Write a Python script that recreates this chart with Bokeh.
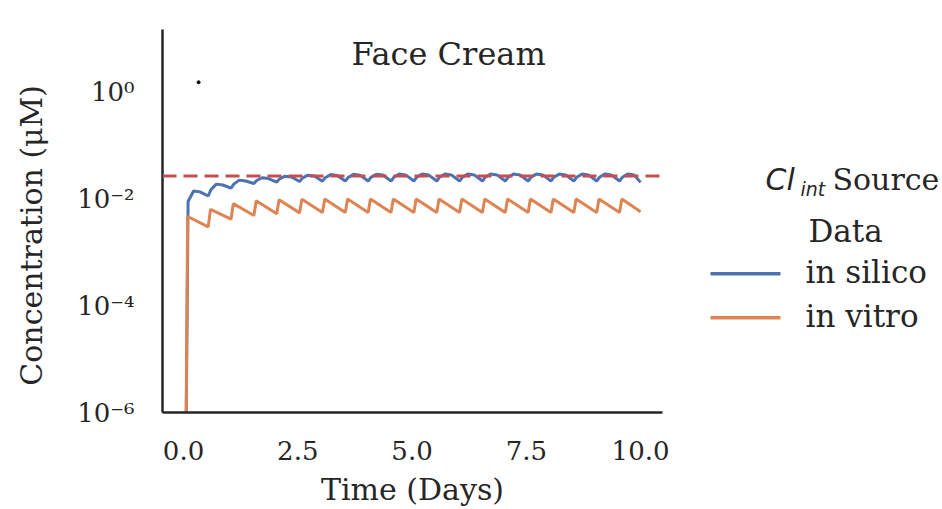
from bokeh.plotting import figure
from bokeh.models import Range1d, FixedTicker, CustomJSTickFormatter, NumeralTickFormatter, Span, Label
from bokeh.layouts import row
from bokeh.embed import file_html
from bokeh.resources import INLINE
from bokeh.core.properties import value

# ---------------- data ----------------
dose_day = [0.04, 0.54, 1.04, 1.54, 2.04, 2.54, 3.04, 3.54, 4.04, 4.54,
            5.04, 5.54, 6.04, 6.54, 7.04, 7.54, 8.04, 8.54, 9.04, 9.54]
end_day = 10.0
start_conc = 1e-8

vitro_peak = [0.0047, 0.0064, 0.0082, 0.0093, 0.0097, 0.0099, 0.0100, 0.0100, 0.0100, 0.0100,
              0.0100, 0.0100, 0.0100, 0.0100, 0.0100, 0.0100, 0.0100, 0.0100, 0.0100, 0.0100]
vitro_trough = [0.0030, 0.0042, 0.0049, 0.0053, 0.0055, 0.0056, 0.0056, 0.0056, 0.0056, 0.0056,
                0.0056, 0.0056, 0.0056, 0.0056, 0.0056, 0.0056, 0.0056, 0.0056, 0.0056, 0.0058]

silico_rise = [0.0090, 0.0150, 0.0190, 0.0222, 0.0237, 0.0246, 0.0251, 0.0253, 0.0254, 0.0255,
               0.0255, 0.0255, 0.0255, 0.0255, 0.0255, 0.0255, 0.0255, 0.0255, 0.0255, 0.0255]
silico_peak = [0.0141, 0.0190, 0.0226, 0.0250, 0.0268, 0.0280, 0.0287, 0.0290, 0.0292, 0.0293,
               0.0293, 0.0293, 0.0293, 0.0293, 0.0293, 0.0293, 0.0293, 0.0293, 0.0293, 0.0293]
silico_shoulder = [0.0136, 0.0183, 0.0218, 0.0242, 0.0259, 0.0270, 0.0277, 0.0280, 0.0282, 0.0283,
                   0.0283, 0.0283, 0.0283, 0.0283, 0.0283, 0.0283, 0.0283, 0.0283, 0.0283, 0.0283]
silico_trough = [0.0114, 0.0160, 0.0195, 0.0208, 0.0213, 0.0216, 0.0217, 0.0217, 0.0217, 0.0217,
                 0.0217, 0.0217, 0.0217, 0.0217, 0.0217, 0.0217, 0.0217, 0.0217, 0.0217, 0.0205]

threshold_conc = 0.027
dot_day = [0.33]
dot_conc = [1.54]

x_ticks = [0, 2.5, 5, 7.5, 10]
y_ticks = [1e-6, 1e-4, 1e-2, 1]
y_tick_labels = ["10\u207b\u2076", "10\u207b\u2074", "10\u207b\u00b2", "10\u2070"]

title_text = "Face Cream"
x_label = "Time (Days)"
y_label = "Concentration (\u03bcM)"
series_names = ["in silico", "in vitro"]
legend_sub = "Data"

BLUE = "#4c72b0"
ORANGE = "#dd8452"
RED = "#c44e52"
INK = "#262626"
SERIF = "DejaVu Serif"
SANS = "DejaVu Sans"

# ---------------- build polylines from the read values ----------------
next_day = dose_day[1:] + [end_day]

vitro_x = [dose_day[0]]
vitro_y = [start_conc]
for d, nd, pk, tr in zip(dose_day, next_day, vitro_peak, vitro_trough):
    vitro_x += [d + 0.05, nd]
    vitro_y += [pk, tr]

silico_x = [dose_day[0]]
silico_y = [start_conc]
for d, nd, rs, pk, sh, tr in zip(dose_day, next_day, silico_rise, silico_peak,
                                  silico_shoulder, silico_trough):
    silico_x += [d + 0.06, d + 0.18, d + 0.32, nd]
    silico_y += [rs, pk, sh, tr]

# ---------------- main figure ----------------
H = 509
p = figure(width=688, height=H, y_axis_type="log",
           x_range=Range1d(-0.46, 10.48), y_range=Range1d(1e-6, 15.0),
           output_backend="svg", toolbar_location=None,
           min_border_left=162, min_border_right=26,
           min_border_top=29, min_border_bottom=H - 413)
p.outline_line_color = None
p.grid.visible = False
p.background_fill_color = "white"
p.border_fill_color = "white"

p.line(silico_x, silico_y, line_color=BLUE, line_width=3)
p.line(vitro_x, vitro_y, line_color=ORANGE, line_width=3)
p.add_layout(Span(location=threshold_conc, dimension="width", line_color=RED,
                  line_dash="14 7", line_width=3))
p.scatter(dot_day, dot_conc, size=3, color="black")

p.add_layout(Label(x=5.8, y=5.25, text=title_text, text_align="center",
                   text_baseline="alphabetic", text_font=SERIF,
                   text_font_size="32px", text_color=INK))

for ax in (p.xaxis[0], p.yaxis[0]):
    ax.axis_line_color = INK
    ax.axis_line_width = 2.5
    ax.major_tick_line_color = None
    ax.minor_tick_line_color = None
    ax.major_label_text_font = SERIF
    ax.major_label_text_font_size = "26px"
    ax.major_label_text_color = INK
    ax.axis_label_text_font = SERIF
    ax.axis_label_text_font_size = "30px"
    ax.axis_label_text_font_style = "normal"
    ax.axis_label_text_color = INK

p.xaxis.ticker = FixedTicker(ticks=x_ticks)
p.xaxis.formatter = NumeralTickFormatter(format="0.0")
p.xaxis.major_label_standoff = 22
p.xaxis.axis_label = x_label
p.xaxis.axis_label_standoff = 9

p.yaxis.ticker = FixedTicker(ticks=y_ticks)
p.yaxis.formatter = CustomJSTickFormatter(args=dict(vals=y_ticks, labs=y_tick_labels), code="""
    let best = 0, bd = 1e9;
    for (let i = 0; i < vals.length; i++) {
        const dd = Math.abs(Math.log10(vals[i]) - Math.log10(tick));
        if (dd < bd) { bd = dd; best = i; }
    }
    return labs[best];
""")
p.yaxis.major_label_standoff = 22
# trailing no-break spaces move the centred vertical title a little downwards
p.yaxis.axis_label = y_label + "\u00a0\u00a0\u00a0"
p.yaxis.axis_label_standoff = 25

# ---------------- legend panel (its frame is aligned with the main frame) ----------------
LW = 252
lg = figure(width=LW, height=H, x_range=Range1d(688, 688 + LW), y_range=Range1d(413, 29),
            output_backend="svg", toolbar_location=None,
            x_axis_location=None, y_axis_location=None,
            min_border_left=0, min_border_right=0,
            min_border_top=29, min_border_bottom=H - 413)
lg.outline_line_color = None
lg.grid.visible = False
lg.background_fill_color = "white"
lg.border_fill_color = "white"

def txt(x, y, s, font=SERIF, size=31, style="normal"):
    lg.text(x=[x], y=[y - 0.36 * size], text=[s], text_font=value(font),
            text_font_size=f"{size}px", text_font_style=style,
            text_baseline="alphabetic", text_align="left", text_color=INK)

txt(765, 190, "Cl", font=SANS, style="italic", size=30)
txt(800, 196, "int", font=SANS, style="italic", size=19)
txt(832, 190, "Source", size=30)
txt(808, 242, legend_sub)
for yy, name, col in ((274, series_names[0], BLUE), (318, series_names[1], ORANGE)):
    lg.line([710, 780], [yy, yy], line_color=col, line_width=3.5)
    txt(805, yy + 9, name)

layout = row(p, lg)
open("out.html", "w").write(file_html(layout, INLINE))
